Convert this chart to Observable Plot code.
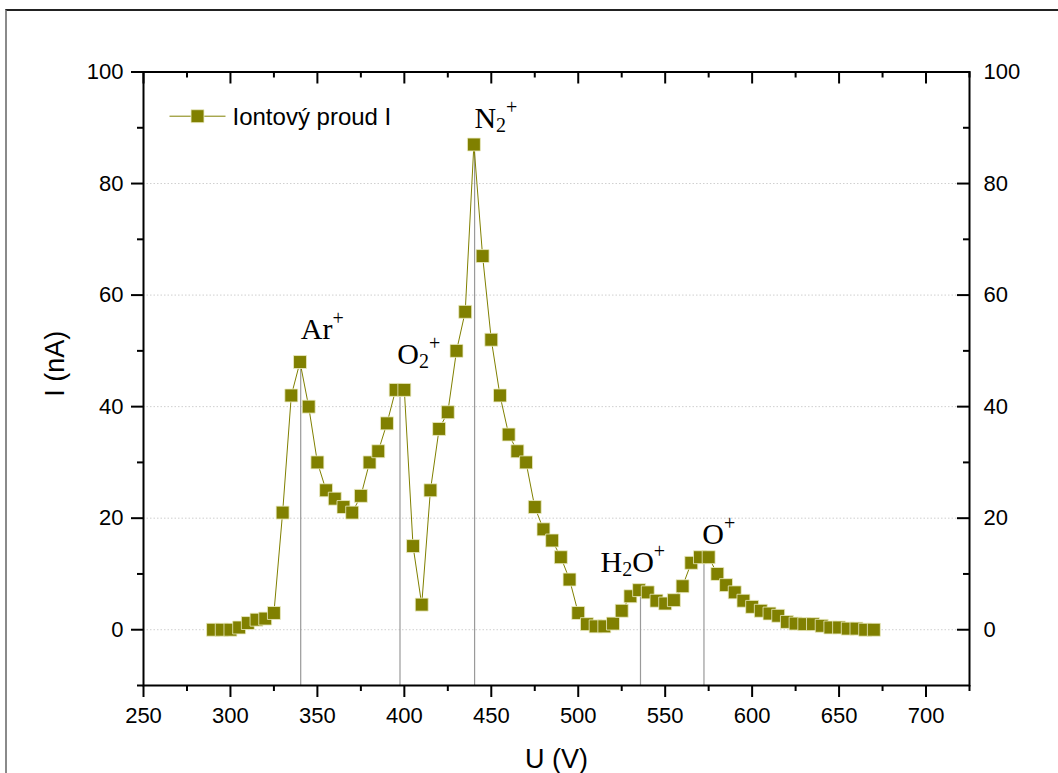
<!DOCTYPE html>
<html>
<head>
<meta charset="utf-8">
<script src="https://cdn.jsdelivr.net/npm/d3@7"></script>
<script src="https://cdn.jsdelivr.net/npm/@observablehq/plot@0.6"></script>
<style>
  html, body { margin: 0; padding: 0; background: #fff; }
  #wrap { position: relative; width: 1058px; height: 773px; overflow: hidden; }
  #border { position: absolute; left: 5px; top: 9px; width: 1100px; height: 800px;
            border-top: 2px solid #222; border-left: 2px solid #8a8a8a; pointer-events: none; }
</style>
</head>
<body>
<div id="wrap"><div id="border"></div></div>
<script>
// ---- data ----
const voltage = [
  290, 295, 300, 305, 310, 315, 320, 325, 330, 335,
  340, 345, 350, 355, 360, 365, 370, 375, 380, 385,
  390, 395, 400, 405, 410, 415, 420, 425, 430, 435,
  440, 445, 450, 455, 460, 465, 470, 475, 480, 485,
  490, 495, 500, 505, 510, 515, 520, 525, 530, 535,
  540, 545, 550, 555, 560, 565, 570, 575, 580, 585,
  590, 595, 600, 605, 610, 615, 620, 625, 630, 635,
  640, 645, 650, 655, 660, 665, 670
];
const current = [
  0, 0, 0, 0.4, 1.2, 1.8, 2.0, 3.0, 21, 42,
  48, 40, 30, 25, 23.5, 22, 21, 24, 30, 32,
  37, 43, 43, 15, 4.5, 25, 36, 39, 50, 57,
  87, 67, 52, 42, 35, 32, 30, 22, 18, 16,
  13, 9, 3, 1.0, 0.6, 0.6, 1.1, 3.4, 6.0, 7.1,
  6.7, 5.2, 4.7, 5.3, 7.8, 12, 13, 13, 10, 8.0,
  6.7, 5.2, 4.1, 3.4, 2.9, 2.5, 1.4, 1.1, 1.0, 1.0,
  0.7, 0.4, 0.4, 0.2, 0.2, 0, 0
];

// peak markers (vertical lines)
const peakU = [340.4, 397.5, 440.4, 535.8, 572.3];
const peakI = [48, 43, 87, 6.7, 12.7];

// ion labels ("_" = subscript, "^" = superscript) and their anchor positions
const ionNames = ["Ar^+", "O_2^+", "N_2^+", "H_2O^+", "O^+"];
const ionU = [340.5, 395.9, 440.3, 512.8, 571.3];
const ionI = [52.2, 47.7, 89.9, 10.3, 15.3];

const xMajor = [250, 300, 350, 400, 450, 500, 550, 600, 650, 700];
const xMinor = [275, 325, 375, 425, 475, 525, 575, 625, 675, 725];
const yMajor = [0, 20, 40, 60, 80, 100];
const yMinor = [-10, 10, 30, 50, 70, 90];
const gridY = [0, 20, 40, 60, 80];

const seriesName = "Iontový proud I";
const xTitle = "U (V)";
const yTitle = "I (nA)";

// ---- build ----
const olive = "#808000";
const W = 1058, H = 773;
const mL = 143, mR = 89, mT = 71.5, mB = 88;
const plotW = W - mL - mR, plotH = H - mT - mB;

const data = voltage.map((u, i) => ({u, i: current[i]}));
const peaks = peakU.map((u, k) => ({u, i: peakI[k]}));
const ions = ionNames.map((n, k) => ({name: n, u: ionU[k], i: ionI[k]}));

const lineSymbol = {draw(ctx, size) { ctx.moveTo(-28, 0); ctx.lineTo(28, 0); }};
const sans = "'Liberation Sans', Arial, sans-serif";

const plot = Plot.plot({
  width: W, height: H,
  marginLeft: mL, marginRight: mR, marginTop: mT, marginBottom: mB,
  x: {domain: [250, 725]},
  y: {domain: [-10, 100]},
  style: {fontFamily: sans, fontSize: "22px", color: "black", background: "transparent"},
  marks: [
    Plot.ruleY(gridY, {stroke: "#cfcfcf", strokeDasharray: "1.5,2"}),
    Plot.ruleX(peaks, {x: "u", y1: -10, y2: "i", stroke: "#9a9a9a", strokeWidth: 1.2}),
    Plot.line(data, {x: "u", y: "i", stroke: olive, strokeWidth: 1}),
    Plot.dot(data, {x: "u", y: "i", symbol: "square", r: 7.3, fill: olive, stroke: "#ececc4", strokeWidth: 0.8}),
    Plot.frame({stroke: "black", strokeWidth: 2}),
    // bottom axis (outward ticks)
    Plot.axisX(xMajor, {anchor: "bottom", tickSize: 12, tickPadding: 10, strokeWidth: 2, label: null, fontSize: 22, fontFamily: sans, tickFormat: d => String(d)}),
    Plot.axisX(xMinor, {anchor: "bottom", tickSize: 6, strokeWidth: 2, label: null, tickFormat: () => ""}),
    // left axis (outward ticks)
    Plot.axisY(yMajor, {anchor: "left", tickSize: 12, tickPadding: 8, strokeWidth: 2, label: null, fontSize: 22, fontFamily: sans, tickFormat: d => String(d)}),
    Plot.axisY(yMinor, {anchor: "left", tickSize: 6, strokeWidth: 2, label: null, tickFormat: () => ""}),
    // right axis labels, inward ticks
    Plot.axisY(yMajor, {anchor: "right", tickSize: 0, tickPadding: 14, label: null, fontSize: 22, fontFamily: sans, tickFormat: d => String(d)}),
    Plot.tickY(yMajor, {y: d => d, insetLeft: plotW - 12, stroke: "black", strokeWidth: 2}),
    Plot.tickY(yMinor.filter(d => d > -10), {y: d => d, insetLeft: plotW - 6, stroke: "black", strokeWidth: 2}),
    // top inward ticks
    Plot.tickX(xMajor, {x: d => d, insetBottom: plotH - 12, stroke: "black", strokeWidth: 2}),
    Plot.tickX(xMinor, {x: d => d, insetBottom: plotH - 6, stroke: "black", strokeWidth: 2}),
    // axis titles
    Plot.text([xTitle], {frameAnchor: "bottom", dy: 82, lineAnchor: "bottom", fontSize: 27, fontFamily: sans, fill: "black"}),
    Plot.text([yTitle], {frameAnchor: "left", rotate: -90, dx: -88, dy: 18, fontSize: 27, fontFamily: sans, fill: "black"}),
    // ion labels
    Plot.text(ions, {x: "u", y: "i", text: "name", textAnchor: "start", lineAnchor: "bottom",
                     fontSize: 30, fontFamily: "'Liberation Serif', 'Times New Roman', serif", fill: "black",
                     className: "ion-labels"}),
    // legend
    Plot.dot([0], {frameAnchor: "top-left", dx: 54, dy: 44.2, symbol: lineSymbol, stroke: olive, strokeWidth: 1, r: 5}),
    Plot.dot([0], {frameAnchor: "top-left", dx: 54, dy: 44.2, symbol: "square", r: 7.3, fill: olive, stroke: "#ececc4", strokeWidth: 0.8}),
    Plot.text([seriesName], {frameAnchor: "top-left", dx: 89, dy: 52.5, textAnchor: "start", lineAnchor: "bottom", fontSize: 24, fontFamily: sans, fill: "black"})
  ]
});

// rich text for ion labels: subscripts and superscripts as tspans
d3.select(plot).selectAll(".ion-labels text").each(function(idx) {
  const name = ions[idx].name;
  const t = d3.select(this);
  t.text(null);
  let cur = 0; // current baseline offset
  for (let k = 0; k < name.length; k++) {
    let ch = name[k], target = 0, size = null;
    if (ch === "_") { ch = name[++k]; target = 4; size = 20; }
    else if (ch === "^") { ch = name[++k]; target = -14; size = 20; }
    const ts = t.append("tspan").text(ch).attr("dy", target - cur);
    if (size) ts.attr("font-size", size);
    cur = target;
  }
});

plot.style.position = "absolute";
plot.style.left = "0px";
plot.style.top = "0px";
document.getElementById("wrap").prepend(plot);
</script>
</body>
</html>
